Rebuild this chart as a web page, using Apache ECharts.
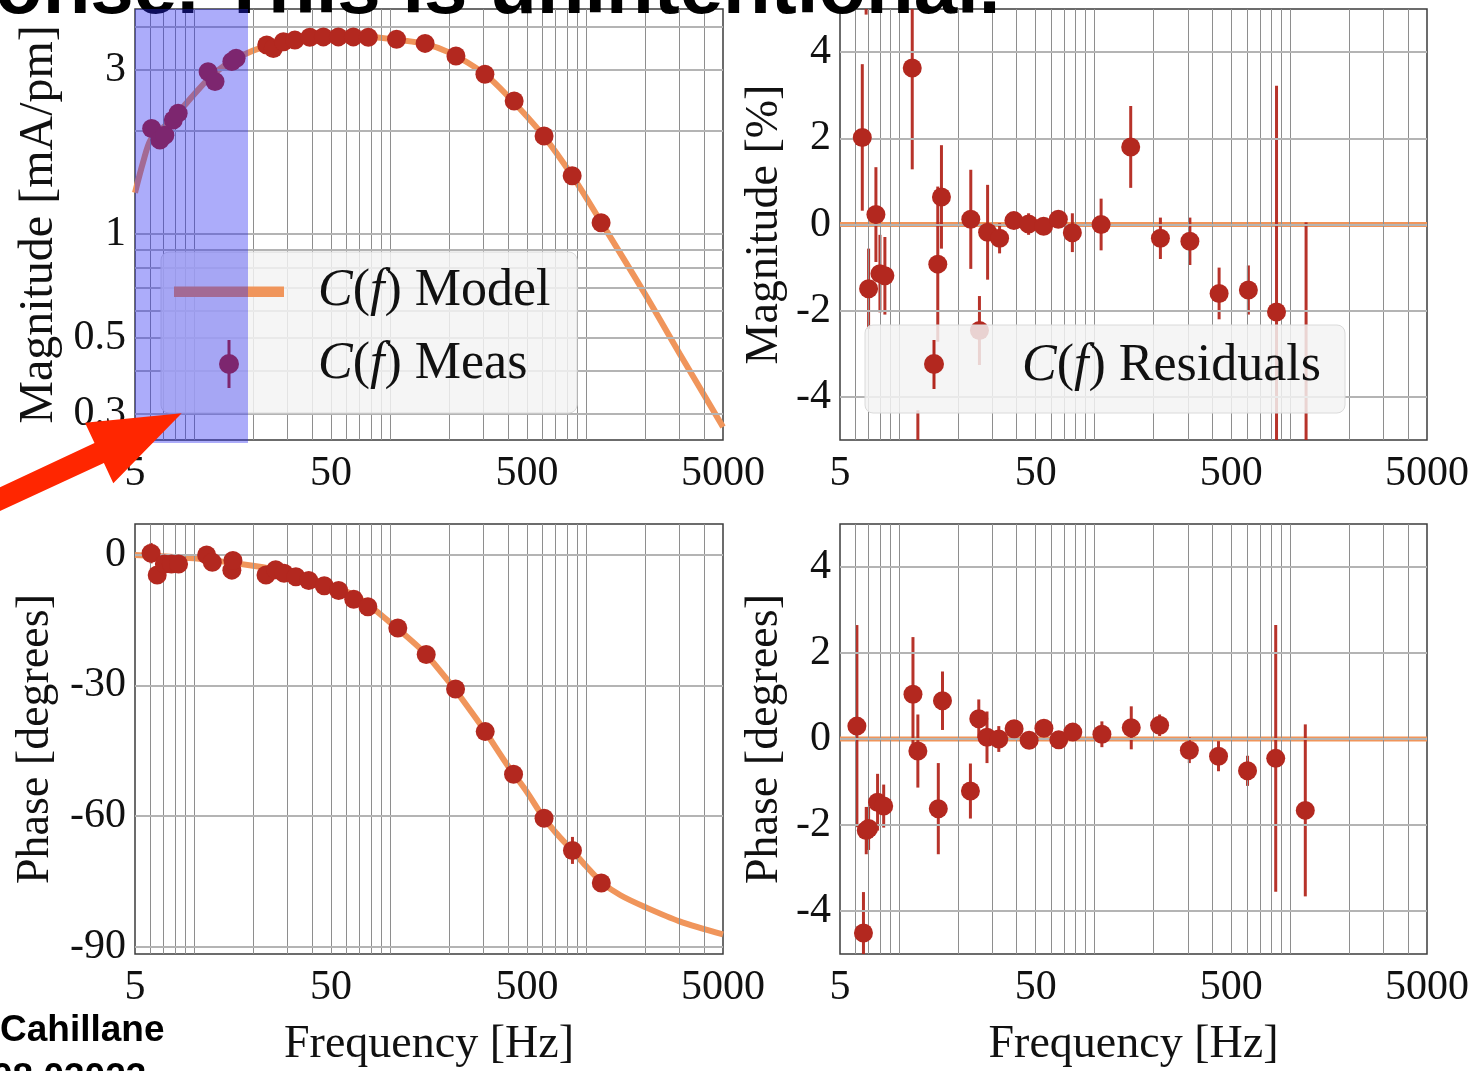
<!DOCTYPE html>
<html>
<head>
<meta charset="utf-8">
<title>C(f) model and measurement</title>
<script src="https://cdn.jsdelivr.net/npm/echarts@6/dist/echarts.min.js"></script>
<style>
html, body { margin: 0; padding: 0; background: #fff; overflow: hidden; }
#chart { width: 1478px; height: 1071px; }
</style>
</head>
<body>
<div id="chart"></div>
<script>
// frequency ticks / grid
var freqTickLabels = [5, 50, 500, 5000];
var freqGrid = [6, 7, 8, 9, 10, 20, 30, 40, 50, 60, 70, 80, 90, 100, 200, 300, 400, 500, 600, 700, 800, 900, 1000, 2000, 3000, 4000];
var magTickLabels = [0.3, 0.5, 1, 3];
var magGrid = [0.3, 0.4, 0.5, 0.6, 0.7, 0.8, 0.9, 1, 2, 3, 4];
var resTickLabels = [-4, -2, 0, 2, 4];
var phaseTickLabels = [-90, -60, -30, 0];

// C(f) model
var modelFreq = [5, 5.5, 6, 7, 8, 9, 10, 12, 15, 20, 30, 50, 70, 100, 150, 200, 300, 400, 600, 850, 1200, 2000, 3000, 5000];
var modelMag = [1.32, 1.62, 1.88, 2.05, 2.2, 2.38, 2.55, 2.85, 3.15, 3.42, 3.65, 3.76, 3.76, 3.7, 3.58, 3.38, 2.94, 2.52, 1.95, 1.48, 1.08, 0.67, 0.45, 0.275];
var modelPhaseFreq = [5, 10, 20, 30, 50, 70, 100, 150, 200, 250, 300, 400, 500, 600, 700, 850, 1000, 1200, 1500, 2000, 3000, 5000];
var modelPhase = [0, -0.8, -2.5, -4, -7, -10, -15.5, -22.5, -29.2, -35, -40, -48.5, -54.5, -60, -63.8, -67.9, -71.5, -75.2, -78.2, -80.9, -84.2, -87.2];

// C(f) measurement
var magFreq = [6.08, 6.7, 7.1, 7.84, 8.3, 11.8, 12.8, 15.6, 16.4, 23.5, 25.4, 28.6, 32.7, 39, 45.7, 54.5, 65, 77.5, 108, 151, 217, 305, 430, 611, 850, 1194];
var magVal = [2.03, 1.88, 1.94, 2.15, 2.25, 2.97, 2.78, 3.18, 3.25, 3.55, 3.47, 3.63, 3.67, 3.74, 3.75, 3.75, 3.75, 3.74, 3.69, 3.59, 3.30, 2.92, 2.44, 1.93, 1.48, 1.08];

var phaseFreq = [6.04, 6.49, 7.06, 7.67, 8.34, 11.6, 12.4, 15.6, 15.8, 23.3, 26.1, 28.8, 33.1, 38.5, 46.2, 54.7, 65.3, 77.1, 109.6, 153, 216, 306, 427, 611, 853, 1197];
var phaseVal = [0.4, -4.6, -2.1, -2.1, -2.1, 0, -1.7, -3.5, -1.3, -4.6, -3.4, -4.2, -5.0, -5.9, -7.1, -8.2, -10.2, -11.9, -16.8, -22.9, -30.8, -40.6, -50.4, -60.5, -67.9, -75.4];
var phaseErr = [2.35, 0.95, 0.55, 0.66, 0.5, 1.33, 0.85, 1.06, 0.68, 0.64, 0.45, 0.6, 0.3, 0.15, 0.1, 0.1, 0.1, 0.2, 0.3, 0.5, 0.25, 0.3, 0.35, 0.35, 3.1, 2.0];

// residuals
var magResFreq = [6.5, 6.8, 7.0, 7.63, 8.0, 8.48, 11.7, 12.5, 15.8, 16.5, 23.3, 25.8, 28.4, 32.7, 38.7, 46, 54.9, 65.3, 77, 108, 153, 217, 307, 433, 611, 851, 1205];
var magResVal = [2.02, 6.5, -1.49, 0.23, -1.14, -1.19, 3.63, -6.5, -0.92, 0.64, 0.12, -2.46, -0.18, -0.32, 0.09, 0.01, -0.04, 0.12, -0.19, 0.0, 1.80, -0.32, -0.39, -1.60, -1.52, -2.03, -6.5];
var magResErr = [1.7, 1.63, 0.93, 1.1, 0.9, 0.9, 2.35, 2.19, 1.8, 1.2, 1.15, 0.8, 1.1, 0.35, 0.15, 0.25, 0.15, 0.12, 0.45, 0.6, 0.95, 0.48, 0.55, 0.6, 0.57, 5.25, 6.55];

var phaseResFreq = [6.1, 6.59, 6.81, 7.0, 7.78, 8.36, 11.8, 12.5, 15.9, 16.7, 23.2, 25.6, 28.2, 32.4, 38.8, 46.3, 55.1, 65.6, 77.4, 109, 154, 215, 305, 430, 605, 843, 1194];
var phaseResVal = [0.30, -4.51, -2.13, -2.08, -1.47, -1.56, 1.04, -0.28, -1.62, 0.89, -1.21, 0.47, 0.04, 0.0, 0.24, -0.03, 0.25, -0.02, 0.16, 0.11, 0.26, 0.32, -0.26, -0.40, -0.74, -0.45, -1.66];
var phaseResErr = [2.35, 0.95, 0.55, 0.5, 0.66, 0.5, 1.33, 0.85, 1.06, 0.68, 0.64, 0.45, 0.6, 0.3, 0.15, 0.1, 0.1, 0.1, 0.2, 0.3, 0.5, 0.25, 0.3, 0.35, 0.35, 3.1, 2.0];

var resZeroFreq = [5, 5000];
var resZeroVal = [0, 0];

var SERIF = '"Liberation Serif", "Times New Roman", serif';
var SANS = '"Liberation Sans", Arial, sans-serif';
var RED = '#b3281f';
var ORANGE = '#f0955b';

function zip(a, b, c) {
    return a.map(function (v, i) {
        return c ? [v, b[i], c[i]] : [v, b[i]];
    });
}

function gridCfg(left, top, width, height) {
    return {
        show: true,
        left: left,
        top: top,
        width: width,
        height: height,
        borderColor: '#3c3c3c',
        borderWidth: 1.5,
        backgroundColor: 'transparent',
        outerBoundsMode: 'none',
        containLabel: false
    };
}

function xAxisCfg(gridIndex, withName) {
    return {
        type: 'log',
        logBase: 10,
        gridIndex: gridIndex,
        min: 5,
        max: 5000,
        name: withName ? 'Frequency [Hz]' : '',
        nameLocation: 'middle',
        nameGap: 68,
        nameTextStyle: { fontFamily: SERIF, fontSize: 46, color: '#111' },
        axisLine: { show: false, onZero: false },
        axisTick: { show: false },
        splitLine: { show: false },
        minorSplitLine: { show: false },
        axisLabel: {
            customValues: freqTickLabels,
            margin: 13,
            fontFamily: SERIF,
            fontSize: 42,
            color: '#111',
            formatter: function (v) { return String(Math.round(v)); }
        }
    };
}

function yAxisCfg(gridIndex, type, min, max, labels, name, gap, nameSize) {
    return {
        type: type,
        gridIndex: gridIndex,
        min: min,
        max: max,
        name: name,
        nameLocation: 'middle',
        nameRotate: 90,
        nameGap: gap,
        nameTextStyle: { fontFamily: SERIF, fontSize: nameSize, color: '#111' },
        axisLine: { show: false, onZero: false },
        axisTick: { show: false },
        splitLine: { show: false },
        axisLabel: {
            customValues: labels,
            margin: 9,
            fontFamily: SERIF,
            fontSize: 42,
            color: '#111',
            formatter: function (v) { return String(v); }
        }
    };
}

// grid lines drawn as mark lines through each panel's own axes
function gridLineSeries(idx, xs, ys) {
    var lines = [];
    xs.forEach(function (v) {
        lines.push({ xAxis: v, lineStyle: { color: '#8e8e8e', width: 1, type: 'solid' } });
    });
    ys.forEach(function (v) {
        lines.push({ yAxis: v, lineStyle: { color: '#b4b4b4', width: 2, type: 'solid' } });
    });
    return {
        type: 'line',
        xAxisIndex: idx,
        yAxisIndex: idx,
        data: [],
        z: 1,
        silent: true,
        animation: false,
        markLine: {
            silent: true,
            symbol: 'none',
            animation: false,
            label: { show: false },
            data: lines
        }
    };
}

function lineSeries(idx, data, width) {
    return {
        type: 'line',
        xAxisIndex: idx,
        yAxisIndex: idx,
        data: data,
        smooth: 0.3,
        showSymbol: false,
        symbol: 'none',
        clip: true,
        z: 3,
        animation: false,
        lineStyle: { color: ORANGE, width: width }
    };
}

function errorBarSeries(idx, data, ymin, ymax) {
    return {
        type: 'custom',
        xAxisIndex: idx,
        yAxisIndex: idx,
        data: data,
        z: 4,
        animation: false,
        encode: { x: 0, y: 1 },
        renderItem: function (params, api) {
            var x = api.value(0), y = api.value(1), e = api.value(2);
            var lo = Math.max(y - e, ymin), hi = Math.min(y + e, ymax);
            if (hi <= lo) {
                return;
            }
            var p1 = api.coord([x, lo]), p2 = api.coord([x, hi]);
            return {
                type: 'line',
                shape: { x1: p1[0], y1: p1[1], x2: p2[0], y2: p2[1] },
                style: { stroke: RED, lineWidth: 3, opacity: 0.95 }
            };
        }
    };
}

function scatterSeries(idx, data) {
    return {
        type: 'scatter',
        xAxisIndex: idx,
        yAxisIndex: idx,
        data: data,
        symbol: 'circle',
        symbolSize: 19,
        clip: true,
        z: 5,
        animation: false,
        itemStyle: { color: RED, opacity: 1 }
    };
}

function richLabel(x, y, tail) {
    return {
        type: 'text',
        x: x,
        y: y,
        z: 60,
        style: {
            text: '{i|C}({i|f}) ' + tail,
            fontFamily: SERIF,
            fontSize: 52,
            fill: '#111',
            verticalAlign: 'middle',
            rich: {
                i: { fontFamily: SERIF, fontStyle: 'italic', fontSize: 52, fill: '#111' }
            }
        }
    };
}

var chart = echarts.init(document.getElementById('chart'), null, { renderer: 'canvas' });

var option = {
    backgroundColor: '#ffffff',
    animation: false,
    grid: [
        gridCfg(135, 9, 588, 431),
        gridCfg(840, 9, 587, 431),
        gridCfg(135, 524, 588, 430),
        gridCfg(840, 524, 587, 430)
    ],
    xAxis: [xAxisCfg(0, false), xAxisCfg(1, false), xAxisCfg(2, true), xAxisCfg(3, true)],
    yAxis: [
        yAxisCfg(0, 'log', 0.252, 4.52, magTickLabels, 'Magnitude [mA/pm]', 72, 48),
        yAxisCfg(1, 'value', -5, 5, resTickLabels, 'Magnitude [%]', 52, 46),
        yAxisCfg(2, 'value', -91.7, 7.1, phaseTickLabels, 'Phase [degrees]', 76, 46),
        yAxisCfg(3, 'value', -5, 5, resTickLabels, 'Phase [degrees]', 52, 46)
    ],
    series: [
        gridLineSeries(0, freqGrid, magGrid),
        gridLineSeries(1, freqGrid, resTickLabels),
        gridLineSeries(2, freqGrid, phaseTickLabels),
        gridLineSeries(3, freqGrid, resTickLabels),

        lineSeries(0, zip(modelFreq, modelMag), 6),
        scatterSeries(0, zip(magFreq, magVal)),

        lineSeries(1, zip(resZeroFreq, resZeroVal), 5),
        errorBarSeries(1, zip(magResFreq, magResVal, magResErr), -5, 5),
        scatterSeries(1, zip(magResFreq, magResVal)),

        lineSeries(2, zip(modelPhaseFreq, modelPhase), 6),
        errorBarSeries(2, zip(phaseFreq, phaseVal, phaseErr), -91.7, 7.1),
        scatterSeries(2, zip(phaseFreq, phaseVal)),

        lineSeries(3, zip(resZeroFreq, resZeroVal), 5),
        errorBarSeries(3, zip(phaseResFreq, phaseResVal, phaseResErr), -5, 5),
        scatterSeries(3, zip(phaseResFreq, phaseResVal))
    ],
    graphic: [
        /* legend, magnitude panel */
        {
            type: 'rect', z: 50,
            shape: { x: 161, y: 252, width: 416, height: 161, r: 8 },
            style: { fill: 'rgba(243,243,243,0.84)', stroke: '#dadada', lineWidth: 1 }
        },
        {
            type: 'rect', z: 51,
            shape: { x: 174, y: 286.5, width: 110, height: 10.5 },
            style: { fill: ORANGE }
        },
        {
            type: 'line', z: 51,
            shape: { x1: 229, y1: 340, x2: 229, y2: 388 },
            style: { stroke: RED, lineWidth: 3 }
        },
        {
            type: 'circle', z: 52,
            shape: { cx: 229, cy: 364, r: 10 },
            style: { fill: RED }
        },
        richLabel(318, 291, 'Model'),
        richLabel(318, 364, 'Meas'),

        /* legend, residual panel */
        {
            type: 'rect', z: 50,
            shape: { x: 865, y: 325, width: 480, height: 88, r: 8 },
            style: { fill: 'rgba(243,243,243,0.84)', stroke: '#dadada', lineWidth: 1 }
        },
        {
            type: 'line', z: 51,
            shape: { x1: 934, y1: 340, x2: 934, y2: 389 },
            style: { stroke: RED, lineWidth: 3 }
        },
        {
            type: 'circle', z: 52,
            shape: { cx: 934, cy: 364, r: 10 },
            style: { fill: RED }
        },
        richLabel(1022, 366, 'Residuals'),

        /* slide text around the figure */
        {
            type: 'text', x: -5, y: -9, z: 100,
            style: {
                text: 'onse. This is unintentional.',
                fontFamily: SANS, fontWeight: 'bold', fontSize: 78,
                fill: '#000', verticalAlign: 'middle'
            }
        },
        {
            type: 'text', x: 0, y: 1031, z: 100,
            style: {
                text: 'Cahillane',
                fontFamily: SANS, fontWeight: 'bold', fontSize: 37,
                fill: '#000', verticalAlign: 'middle'
            }
        },
        {
            type: 'text', x: -8, y: 1079, z: 100,
            style: {
                text: '08.03023',
                fontFamily: SANS, fontWeight: 'bold', fontSize: 37,
                fill: '#000', verticalAlign: 'middle'
            }
        },

        /* highlight box over low frequencies */
        {
            type: 'rect', z: 110,
            shape: { x: 135, y: 9, width: 113, height: 434 },
            style: { fill: 'rgba(36,36,242,0.38)' }
        },

        /* red arrow */
        {
            type: 'polygon', z: 120,
            shape: {
                points: [[-20, 496.6], [94.5, 443.1], [85, 422.7], [181.7, 413.3], [113.3, 483.3], [103.9, 462.9], [-20, 520.4]]
            },
            style: { fill: '#ff2600' }
        }
    ]
};

chart.setOption(option);
</script>
</body>
</html>
